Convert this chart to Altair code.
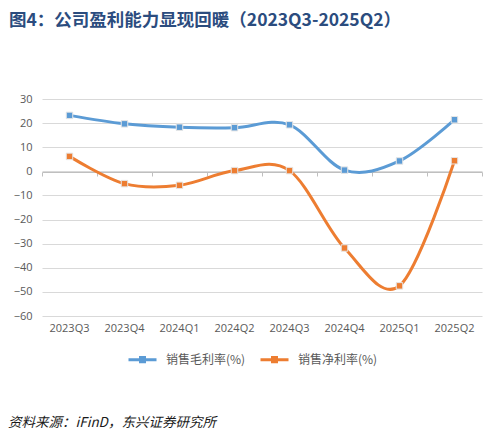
import altair as alt
import pandas as pd

quarters = ["2023Q3", "2023Q4", "2024Q1", "2024Q2", "2024Q3", "2024Q4", "2025Q1", "2025Q2"]
gross_margin = [23.2, 19.7, 18.3, 18.1, 19.3, 0.5, 4.3, 21.4]
net_margin = [6.2, -5.1, -5.8, 0.3, 0.3, -31.8, -47.5, 4.4]
series_names = ["销售毛利率(%)", "销售净利率(%)"]
series_colors = ["#5b9bd5", "#ed7d31"]
y_ticks = [-60, -50, -40, -30, -20, -10, 0, 10, 20, 30]
title_text = "图4：公司盈利能力显现回暖（2023Q3-2025Q2）"
source_text = ["资料来源：iFinD，东兴证券研究所"]

rows = []
for q, g, n in zip(quarters, gross_margin, net_margin):
    rows.append({"quarter": q, "series": series_names[0], "value": g})
    rows.append({"quarter": q, "series": series_names[1], "value": n})
df = pd.DataFrame(rows)
src_df = pd.DataFrame({"text": source_text})

CJK = "Noto Sans CJK SC"
LAT = "Open Sans"

x_scale = alt.Scale(type="band", domain=quarters, paddingInner=0, paddingOuter=0)
y_scale = alt.Scale(domain=[-60, 30], nice=False, zero=False)
color_scale = alt.Scale(domain=series_names, range=series_colors)

legend_path = ("M-1,0H1M-0.25,-0.15H0.25M-0.25,-0.05H0.25M-0.25,0.05H0.25M-0.25,0.15H0.25")

y_axis = alt.Axis(values=y_ticks, tickCount=10, domain=False, ticks=False, grid=True,
                  gridColor="#d9d9d9", gridWidth=1, labelColor="#595959",
                  labelFont=LAT, labelFontSize=11, labelPadding=10,
                  labelOverlap=False, labelBound=False, labelFlush=False)

line = alt.Chart(df).mark_line(strokeWidth=3, interpolate="cardinal").encode(
    x=alt.X("quarter:N", scale=x_scale, sort=quarters, title=None,
            axis=alt.Axis(labelAngle=0, ticks=False, domain=False, grid=False,
                          labelColor="#595959", labelFont=LAT, labelFontSize=11,
                          labelPadding=6, labelOverlap=False)),
    y=alt.Y("value:Q", scale=y_scale, title=None, axis=y_axis),
    color=alt.Color("series:N", scale=color_scale, sort=series_names,
                    legend=alt.Legend(title=None, orient="none", direction="horizontal",
                                      legendX=85, legendY=245, symbolType=legend_path,
                                      symbolSize=784, symbolStrokeWidth=3,
                                      labelFont=CJK, labelFontSize=12,
                                      labelColor="#595959", columnPadding=8,
                                      labelOffset=8)),
    detail="series:N",
)

points = alt.Chart(df).mark_point(shape="square", filled=True, size=42, stroke="#e6e6e6",
                                  strokeWidth=1, opacity=1).encode(
    x=alt.X("quarter:N", scale=x_scale, sort=quarters, title=None,
            axis=alt.Axis(orient="bottom", labels=False, ticks=True, tickBand="extent",
                          tickSize=4, tickColor="#bfbfbf", domain=True,
                          domainColor="#bfbfbf", grid=False, offset=-144)),
    y=alt.Y("value:Q", scale=y_scale, title=None, axis=y_axis),
    fill=alt.Fill("series:N", scale=color_scale, legend=None),
)

source = alt.Chart(src_df).mark_text(align="left", baseline="middle", font=CJK,
                                     fontSize=13.5, fontStyle="italic",
                                     color="#1a1a1a").encode(
    x=alt.value(-34), y=alt.value(324), text="text:N"
)

chart = alt.layer(line, points, source).resolve_axis(x="independent").properties(
    width=440, height=217,
    title=alt.Title(title_text, anchor="start", frame="group", dx=-33, offset=64,
                    font=CJK, fontSize=17.5, fontWeight="bold", color="#2b4c7e"),
    autosize=alt.AutoSizeParams(type="none"),
    padding={"left": 34, "top": 91, "right": 3, "bottom": 118},
).configure_view(stroke=None)

chart.save("out.html", embed_options={"renderer": "svg", "actions": False})
